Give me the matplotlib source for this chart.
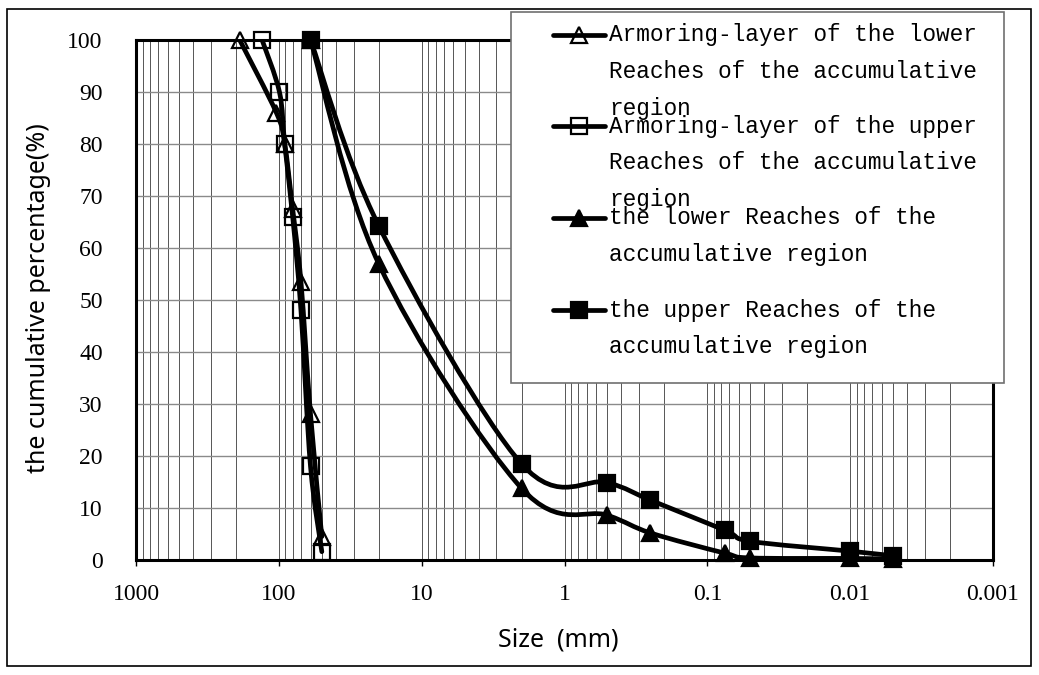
import numpy as np
import matplotlib
matplotlib.use('Agg')
from matplotlib import pyplot as plt
from matplotlib.path import Path
from matplotlib.patches import PathPatch, Rectangle
from matplotlib.lines import Line2D

W, H = 1039, 675

# grain size (mm) and cumulative percentage (%)
armor_low_size = [188, 104, 91, 80, 70, 60, 50]
armor_low_pct = [100, 86, 80, 67.5, 53.5, 28, 4.5]
armor_up_size = [131, 99, 91, 80, 70, 60, 50]
armor_up_pct = [100, 90, 80, 66, 48, 18, 1.6]
low_size = [60, 20, 2, 0.5, 0.25, 0.075, 0.05, 0.01, 0.005]
low_pct = [100, 57, 13.8, 8.6, 5.2, 1.3, 0.4, 0.3, 0.2]
up_size = [60, 20, 2, 0.5, 0.25, 0.075, 0.05, 0.01, 0.005]
up_pct = [100, 64.3, 18.5, 14.9, 11.5, 5.7, 3.6, 1.7, 0.8]

legend_text = [
    ["Armoring-layer of the lower", "Reaches of the accumulative", "region"],
    ["Armoring-layer of the upper", "Reaches of the accumulative", "region"],
    ["the lower Reaches of the", "accumulative region"],
    ["the upper Reaches of the", "accumulative region"],
]
x_ticks = [1000, 100, 10, 1, 0.1, 0.01, 0.001]
x_ticklabels = ["1000", "100", "10", "1", "0.1", "0.01", "0.001"]
y_ticks = list(range(0, 101, 10))

series = [
    (armor_low_size, armor_low_pct, dict(marker='^', mfc='none')),
    (armor_up_size, armor_up_pct, dict(marker='s', mfc='none')),
    (low_size, low_pct, dict(marker='^', mfc='black')),
    (up_size, up_pct, dict(marker='s', mfc='black')),
]


def fx(px):
    return px / W


def fy(py):
    return 1 - py / H


def smooth_path(ax, xs, ys):
    # excel-like smoothed line: cubic bezier through the points, built in pixel space
    pts = ax.transData.transform(np.column_stack([xs, ys]))
    n = len(pts)
    verts = [pts[0]]
    codes = [Path.MOVETO]
    for i in range(n - 1):
        p0 = pts[i - 1] if i > 0 else pts[i]
        p1 = pts[i]
        p2 = pts[i + 1]
        p3 = pts[i + 2] if i + 2 < n else pts[i + 1]
        c1 = p1 + (p2 - p0) / 6.0
        c2 = p2 - (p3 - p1) / 6.0
        verts += [c1, c2, p2]
        codes += [Path.CURVE4] * 3
    verts = ax.transData.inverted().transform(np.array(verts))
    return Path(verts, codes)


fig = plt.figure(figsize=(W / 100, H / 100), dpi=100)
ax = fig.add_axes([fx(136), fy(560), fx(993) - fx(136), fy(40) - fy(560)])
ax.set_xscale('log')
ax.set_xlim(1000, 0.001)
ax.set_ylim(0, 100)

ax.set_xticks(x_ticks)
ax.set_xticklabels(x_ticklabels)
ax.xaxis.set_minor_locator(matplotlib.ticker.LogLocator(base=10, subs=np.arange(2, 10)))
ax.xaxis.set_minor_formatter(matplotlib.ticker.NullFormatter())
ax.set_yticks(y_ticks)
ax.tick_params(axis='x', which='major', direction='out', length=4, width=1, pad=13)
ax.tick_params(axis='x', which='minor', length=0)
ax.tick_params(axis='y', length=0, pad=24)
for lab in ax.get_xticklabels() + ax.get_yticklabels():
    lab.set_fontfamily('Liberation Serif')
    lab.set_fontsize(17)

ax.grid(True, axis='x', which='both', color='#555555', lw=0.7)
ax.grid(True, axis='y', which='major', color='#8a8a8a', lw=1.0)
ax.set_axisbelow(True)
for sp in ax.spines.values():
    sp.set_linewidth(2.2)
    sp.set_color('black')

for xs, ys, st in series:
    ax.add_patch(PathPatch(smooth_path(ax, xs, ys), fill=False, lw=3.4,
                           edgecolor='black', capstyle='round', zorder=3))
for xs, ys, st in series:
    ax.plot(xs, ys, ls='none', marker=st['marker'], mfc=st['mfc'], mec='black',
            ms=12, mew=1.6, zorder=4, clip_on=False)

fig.text(fx(558), fy(640), "Size  (mm)", fontsize=18, family='Noto Sans',
         ha='center', va='center')
fig.text(fx(39), fy(298), "the cumulative percentage(%)", fontsize=18,
         family='Noto Sans', rotation=90, ha='center', va='center')

# legend box drawn by hand so the marker sits on the first text line
fig.add_artist(Rectangle((fx(511), fy(383)), fx(1004) - fx(511), fy(12) - fy(383),
                         transform=fig.transFigure, facecolor='white',
                         edgecolor='#707070', lw=1.2, zorder=10))
row_y = [35, 126, 218, 310]
for (xs, ys, st), lines, ry in zip(series, legend_text, row_y):
    fig.add_artist(Line2D([fx(553), fx(605)], [fy(ry), fy(ry)], color='black', lw=3.4,
                          solid_capstyle='round', transform=fig.transFigure, zorder=11))
    fig.add_artist(Line2D([fx(579)], [fy(ry)], marker=st['marker'], mfc=st['mfc'],
                          mec='black', ms=12, mew=1.6, transform=fig.transFigure,
                          zorder=12))
    for k, t in enumerate(lines):
        fig.text(fx(609), fy(ry + k * 36.7), t, fontsize=16.4, family='Liberation Mono',
                 ha='left', va='center', zorder=13)

# outer frame
fig.add_artist(Rectangle((fx(7), fy(666)), fx(1031) - fx(7), fy(9) - fy(666),
                         transform=fig.transFigure, fill=False, edgecolor='black',
                         lw=1.2, zorder=20))

fig.savefig('out.png', dpi=100)
